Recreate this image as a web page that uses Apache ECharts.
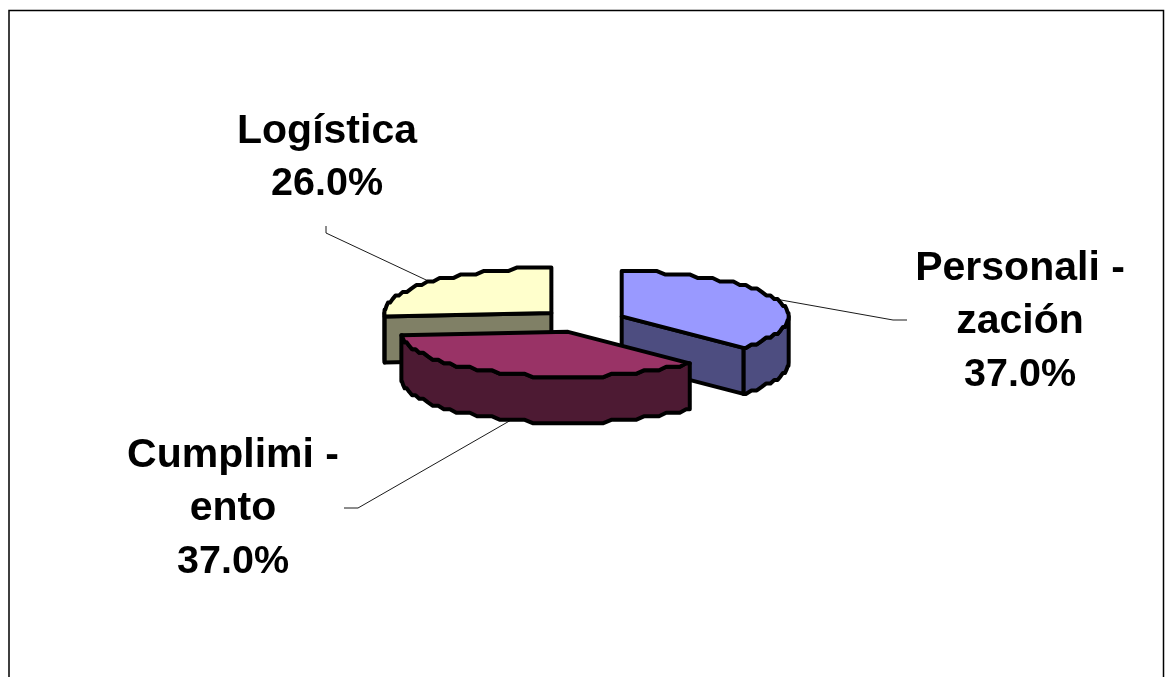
<!DOCTYPE html>
<html><head><meta charset="utf-8">
<style>html,body{margin:0;padding:0;background:#fff;overflow:hidden}#c{width:1165px;height:677px}</style>
<script src="https://cdn.jsdelivr.net/npm/echarts@6/dist/echarts.min.js"></script>
</head><body><div id="c"></div>
<script>
// Data
const categories = ['Personalización', 'Cumplimiento', 'Logística'];
const wrappedNames = [['Personali -', 'zación'], ['Cumplimi -', 'ento'], ['Logística']];
const values = [37, 37, 26];
const percentLabels = ['37.0%', '37.0%', '26.0%'];

// Style
const topColors = ['#9999FF', '#993366', '#FFFFCC'];
const sideColors = ['#4D4D80', '#4D1A33', '#808066'];
const drawOrder = [2, 3, 1];

// Layout
const centre = [582.5, 321], radiusX = 167, radiusY = 45, depth = 46, explode = 42.7;
const snapY = 3.5, arcStep = 3;
const labelAt = [[1020, 322], [233, 509], [327, 158]];
const leaderEnd = [[[893, 320], [907, 320]], [[358, 508], [344, 508]], [[326, 233], [326, 226]]];

const rad = d => d * Math.PI / 180;
const total = values.reduce((a, b) => a + b, 0);
const rimOffset = a => [radiusX * Math.sin(rad(a)), Math.round(-radiusY * Math.cos(rad(a)) / snapY) * snapY];
function arcAngles(a0, a1) {
  const out = [a0];
  let k = Math.ceil(a0 / arcStep + 1e-6);
  while (k * arcStep < a1 - 1e-6) { out.push(k * arcStep); k++; }
  out.push(a1);
  return out;
}
function renderItem(params, api) {
  const i = params.dataIndex;
  let before = 0;
  for (let k = 0; k < i; k++) before += values[k];
  const a0 = before / total * 360, a1 = (before + api.value(0)) / total * 360, mid = (a0 + a1) / 2;
  const ax = centre[0] + explode * Math.sin(rad(mid));
  const ay = centre[1] - explode * radiusY / radiusX * Math.cos(rad(mid));
  const rim = a => { const o = rimOffset(a); return [ax + o[0], ay + o[1]]; };
  const down = p => [p[0], p[1] + depth];
  const z = drawOrder[i] * 10;
  const stroke = { stroke: '#000', lineWidth: 4, lineJoin: 'round' };
  const poly = (pts, fill, zz) => ({ type: 'polygon', z2: zz, shape: { points: pts }, style: Object.assign({ fill }, stroke) });
  const kids = [];

  // outer wall: the part of the rim facing the viewer
  const s0 = Math.max(a0, 90), s1 = Math.min(a1, 270);
  if (s1 > s0) {
    const top = arcAngles(s0, s1).map(rim);
    kids.push(poly(top.concat(top.slice().reverse().map(down)), sideColors[i], z));
  }
  // cut faces
  const apex = [ax, ay];
  if (-Math.cos(rad(a0 - 90)) > 0.01) {
    const r = rim(a0);
    kids.push(poly([apex, r, down(r), down(apex)], sideColors[i], z + 1));
  }
  if (-Math.cos(rad(a1 + 90)) > 0.01) {
    const r = rim(a1);
    kids.push(poly([apex, r, down(r), down(apex)], sideColors[i], z + 1));
  }
  // top
  kids.push(poly([apex].concat(arcAngles(a0, a1).map(rim)), topColors[i], z + 2));

  // leader line
  const rm = rim(mid);
  const start = (mid > 90 && mid < 270) ? down(rm) : rm;
  kids.push({ type: 'polyline', z2: 1, shape: { points: [start].concat(leaderEnd[i]) }, style: { stroke: '#000', lineWidth: 0.9, fill: 'none' } });
  // label
  const text = wrappedNames[i].map(t => '{n|' + t + '}').concat('{p|' + percentLabels[i] + '}').join('\n');
  kids.push({
    type: 'text', z2: 100, x: labelAt[i][0], y: labelAt[i][1],
    style: {
      text, align: 'center', verticalAlign: 'middle',
      rich: {
        n: { fontFamily: 'Liberation Sans', fontWeight: 'bold', fontSize: 41, lineHeight: 53, fill: '#000', align: 'center' },
        p: { fontFamily: 'Liberation Sans', fontWeight: 'bold', fontSize: 39.5, lineHeight: 53, fill: '#000', align: 'center' }
      }
    }
  });
  return { type: 'group', children: kids };
}
const chart = echarts.init(document.getElementById('c'), null, { renderer: 'canvas' });
chart.setOption({
  animation: false,
  backgroundColor: '#fff',
  graphic: [{ type: 'rect', z: -1, silent: true, shape: { x: 9, y: 10.5, width: 1154.5, height: 720 }, style: { fill: 'none', stroke: '#000', lineWidth: 1.5 } }],
  series: [{
    type: 'custom', coordinateSystem: 'none', renderItem,
    data: categories.map((name, i) => ({ name, value: [values[i]] }))
  }]
});
</script></body></html>
